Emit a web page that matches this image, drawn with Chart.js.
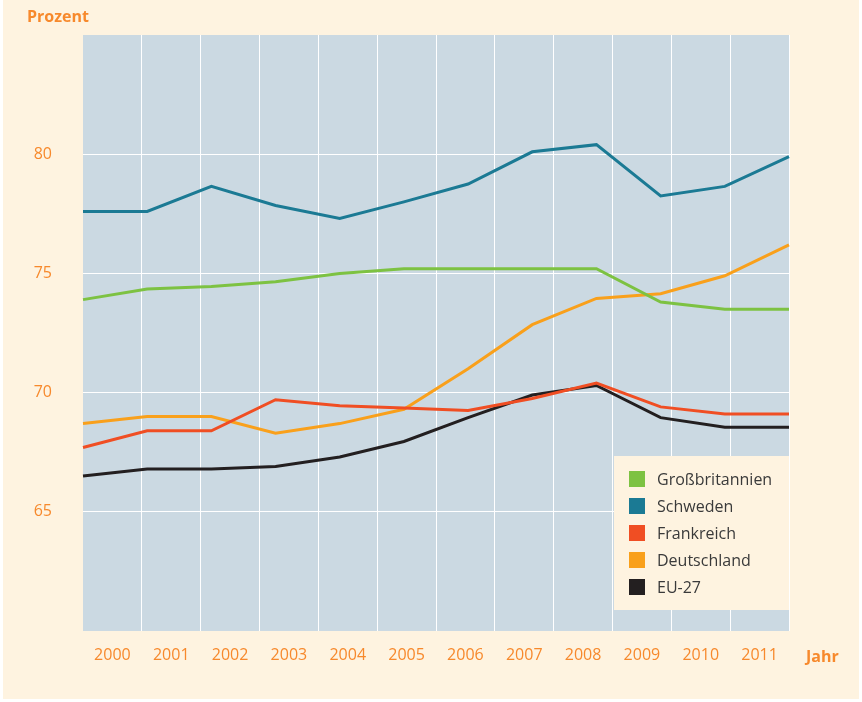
<!DOCTYPE html>
<html>
<head>
<meta charset="utf-8">
<script src="https://cdn.jsdelivr.net/npm/chart.js@4.4.0/dist/chart.umd.min.js"></script>
<style>
  html, body { margin: 0; padding: 0; background: #ffffff; }
  #wrap { width: 862px; height: 702px; }
</style>
</head>
<body>
<div id="wrap"><canvas id="myChart" width="862" height="702"></canvas></div>
<script>
// Jahre und Werte (Prozent)
var years = ['2000', '2001', '2002', '2003', '2004', '2005', '2006', '2007', '2008', '2009', '2010', '2011'];
var grossbritannien = [73.9, 74.35, 74.45, 74.65, 75.0, 75.2, 75.2, 75.2, 75.2, 73.8, 73.5, 73.5];
var schweden = [77.6, 77.6, 78.65, 77.85, 77.3, 78.0, 78.75, 80.1, 80.4, 78.25, 78.65, 79.9];
var frankreich = [67.7, 68.4, 68.4, 69.7, 69.45, 69.35, 69.25, 69.75, 70.4, 69.4, 69.1, 69.1];
var deutschland = [68.7, 69.0, 69.0, 68.3, 68.7, 69.3, 71.0, 72.85, 73.95, 74.15, 74.9, 76.2];
var eu27 = [66.5, 66.8, 66.8, 66.9, 67.3, 67.95, 68.95, 69.9, 70.3, 68.95, 68.55, 68.55];
var yTicks = [65, 70, 75, 80];

var orange = '#f7892c';

// Hintergrund, Beschriftungen und Legende
var decoPlugin = {
    id: 'deco',
    beforeDraw: function (chart) {
        var c = chart.ctx;
        var a = chart.chartArea;
        c.save();
        c.fillStyle = '#fef3e0';
        c.fillRect(3, 0, chart.width - 6, chart.height - 3);
        c.fillStyle = '#cbd9e2';
        c.fillRect(a.left, a.top, a.right - a.left, a.bottom - a.top);
        c.restore();
    },
    afterDraw: function (chart) {
        var c = chart.ctx;
        var a = chart.chartArea;
        c.save();
        // Achsentitel
        c.fillStyle = orange;
        c.font = 'bold 16px "Open Sans"';
        c.textBaseline = 'middle';
        c.textAlign = 'left';
        c.fillText('Prozent', 27, 17);
        c.fillText('Jahr', a.right + 17, 657);

        // Legende
        var boxW = 175, boxH = 154;
        var bx = a.right - boxW, by = 456;
        c.fillStyle = '#fef3e0';
        c.fillRect(bx, by, boxW, boxH);
        c.font = '16px "Open Sans"';
        chart.data.datasets.forEach(function (ds, i) {
            var cy = by + 23 + i * 27;
            c.fillStyle = ds.borderColor;
            c.fillRect(bx + 15, cy - 8, 16, 16);
            c.fillStyle = '#3a3a3a';
            c.fillText(ds.label, bx + 43, cy + 1);
        });
        c.restore();
    }
};

var ctx = document.getElementById('myChart').getContext('2d');
var chart = new Chart(ctx, {
    type: 'line',
    data: {
        labels: years,
        datasets: [
            { label: 'Großbritannien', data: grossbritannien, borderColor: '#7dc242' },
            { label: 'Schweden', data: schweden, borderColor: '#1b7a94' },
            { label: 'Frankreich', data: frankreich, borderColor: '#f04e23' },
            { label: 'Deutschland', data: deutschland, borderColor: '#f9a01b' },
            { label: 'EU-27', data: eu27, borderColor: '#231f20' }
        ]
    },
    options: {
        responsive: false,
        animation: false,
        layout: { padding: { top: 35, right: 73, left: 0, bottom: 0 } },
        elements: {
            line: { borderWidth: 3, tension: 0, borderJoinStyle: 'miter' },
            point: { radius: 0, hoverRadius: 0 }
        },
        plugins: {
            legend: { display: false },
            tooltip: { enabled: false }
        },
        scales: {
            x: {
                type: 'category',
                display: false,
                offset: false
            },
            xLabels: {
                type: 'category',
                labels: years,
                position: 'bottom',
                offset: true,
                border: { display: false },
                grid: {
                    offset: true,
                    drawTicks: false,
                    lineWidth: 1,
                    color: function (c) {
                        return (c.index === 0 || c.index >= years.length) ? 'rgba(0,0,0,0)' : '#ffffff';
                    }
                },
                ticks: {
                    color: orange,
                    padding: 15,
                    maxRotation: 0,
                    autoSkip: false,
                    font: { family: '"Open Sans"', size: 16 }
                },
                afterFit: function (scale) { scale.height = 71; }
            },
            y: {
                min: 60,
                max: 85,
                border: { display: false },
                afterBuildTicks: function (scale) {
                    scale.ticks = yTicks.map(function (v) { return { value: v }; });
                },
                grid: {
                    drawTicks: false,
                    color: '#ffffff',
                    lineWidth: 1
                },
                ticks: {
                    color: orange,
                    padding: 31,
                    font: { family: '"Open Sans"', size: 16 }
                },
                afterFit: function (scale) {
                    scale.width = 83;
                    scale.paddingTop = 0;
                    scale.paddingBottom = 0;
                }
            }
        }
    },
    plugins: [decoPlugin]
});
</script>
</body>
</html>
